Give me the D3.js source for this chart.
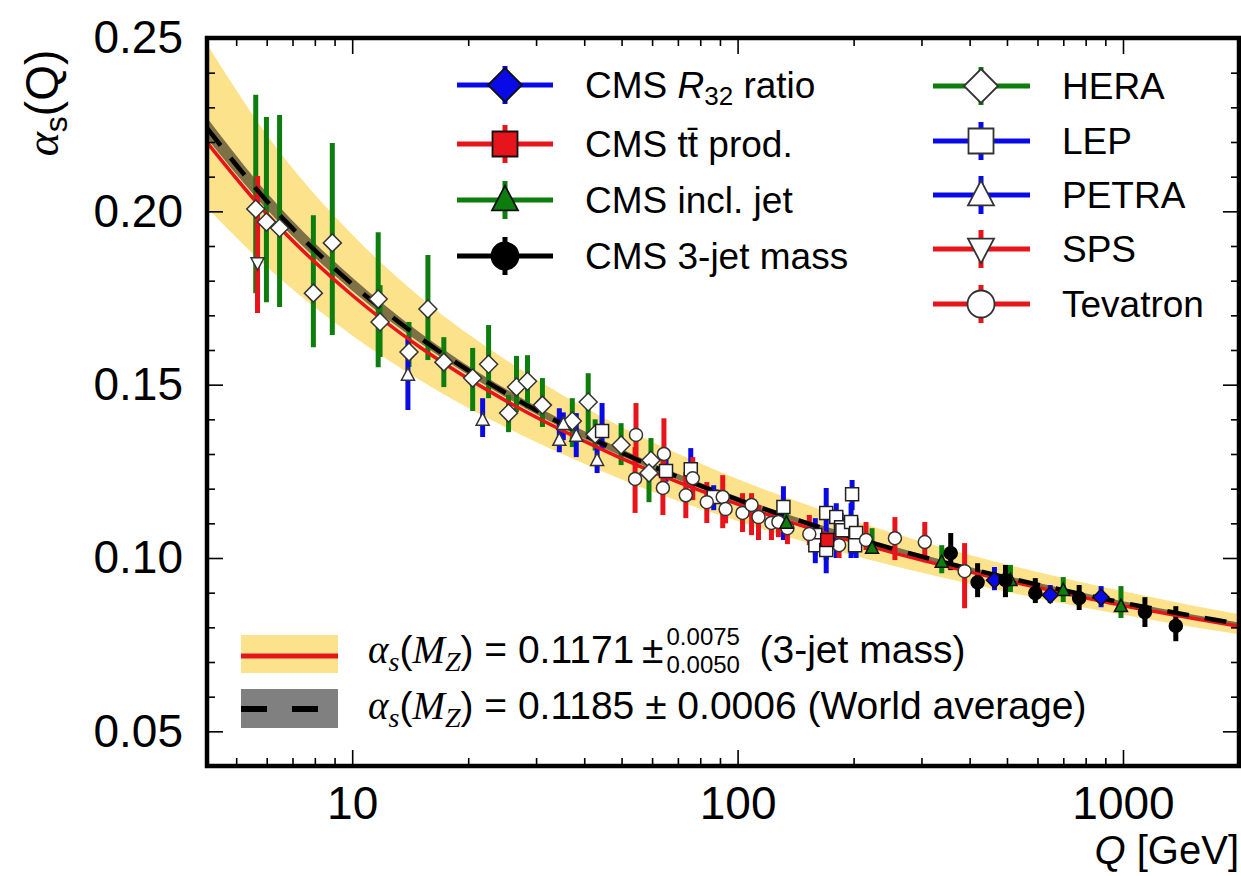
<!DOCTYPE html>
<html><head><meta charset="utf-8">
<script src="https://cdn.jsdelivr.net/npm/d3@7"></script>
<style>body{margin:0;background:#fff}svg{display:block}</style>
</head><body>
<svg id="c" width="1241" height="876"></svg>
<script>
// ---------------- DATA ----------------
// running-coupling curves at these Q values [GeV]
const curveQ   = [4.2, 6, 10, 15, 25, 40, 60, 91.19, 150, 250, 400, 700, 1000, 1500, 2000];
const worldAvg = [0.2240, 0.2030, 0.1790, 0.1635, 0.1476, 0.1355, 0.1265, 0.1185, 0.1102, 0.1028, 0.0969, 0.0907, 0.0871, 0.0834, 0.0810];
const worldHi  = [0.2270, 0.2054, 0.1809, 0.1650, 0.1488, 0.1366, 0.1274, 0.1193, 0.1109, 0.1035, 0.0974, 0.0912, 0.0875, 0.0838, 0.0814];
const worldLo  = [0.2210, 0.2006, 0.1771, 0.1620, 0.1464, 0.1344, 0.1256, 0.1177, 0.1095, 0.1021, 0.0964, 0.0902, 0.0867, 0.0830, 0.0806];
const jet3Fit  = [0.2199, 0.1993, 0.1758, 0.1608, 0.1454, 0.1337, 0.1249, 0.1171, 0.1090, 0.1017, 0.0960, 0.0899, 0.0863, 0.0827, 0.0803];
const jet3Hi   = [0.2482, 0.2221, 0.1933, 0.1753, 0.1572, 0.1435, 0.1335, 0.1246, 0.1155, 0.1074, 0.1009, 0.0942, 0.0904, 0.0864, 0.0838];
const jet3Lo   = [0.2010, 0.1840, 0.1642, 0.1513, 0.1377, 0.1272, 0.1192, 0.1121, 0.1046, 0.0979, 0.0926, 0.0869, 0.0836, 0.0802, 0.0780];

// measurements: [Q, alpha_s, upper end of error bar, lower end of error bar]
const heraData = [
  [5.62,0.2007,0.2336,0.1764],[5.99,0.1969,0.2272,0.1738],[6.48,0.1952,0.2278,0.1724],
  [7.93,0.1764,0.1989,0.1608],[8.88,0.1909,0.2197,0.1643],[11.68,0.1747,0.1940,0.1550],
  [11.81,0.1681,0.1787,0.1580],[14.04,0.1594,0.1681,0.1551],[15.72,0.1718,0.1874,0.1571],
  [17.29,0.1565,0.1637,0.1493],[20.54,0.1519,0.1606,0.1424],[22.59,0.1559,0.1672,0.1461],
  [25.45,0.1418,0.1470,0.1363],[26.69,0.1493,0.1583,0.1421],[28.5,0.1510,0.1585,0.1432],
  [31.16,0.1441,0.1519,0.1378],[37.25,0.1395,0.1461,0.1320],[40.96,0.1450,0.1533,0.1355],
  [42.7,0.1357,0.1400,0.1310],[49.86,0.1326,0.1389,0.1268],[59.6,0.1282,0.1346,0.1230],
  [58.9,0.1245,0.1290,0.1161]
];
const petraData = [
  [13.95,0.1528,0.1637,0.1427],[21.8,0.1398,0.1461,0.1349],[34.47,0.1340,0.1432,0.1305],
  [35.3,0.1386,0.1420,0.1340],[38.14,0.1352,0.1418,0.1291],[43.2,0.1282,0.1320,0.1245]
];
const spsData = [[5.68,0.1851,0.2102,0.1707]];
const lepData = [
  [44.5,0.1366,0.1447,0.1311],[65.2,0.1251,0.1285,0.1220],[75.6,0.1256,0.1317,0.1216],
  [86.7,0.1176,0.1210,0.1138],[131.5,0.1147,0.1207,0.1052],[159.1,0.1066,0.1115,0.0985],
  [159.1,0.1037,0.1060,0.1010],[169.8,0.1130,0.1202,0.0956],[169.8,0.1023,0.1050,0.0995],
  [180.3,0.1118,0.1158,0.1000],[185.6,0.1089,0.1130,0.1050],[187.0,0.1080,0.1115,0.1050],
  [197.0,0.1104,0.1158,0.1000],[198.2,0.1184,0.1225,0.1138],[203.0,0.1072,0.1115,0.1000],
  [201.8,0.1037,0.1060,0.1010]
];
const tevatronData = [
  [54.5,0.1355,0.1447,0.1260],[54.2,0.1228,0.1320,0.1130],[64.4,0.1300,0.1403,0.1210],
  [64.0,0.1202,0.1290,0.1124],[76.5,0.1230,0.1291,0.1167],[73.4,0.1181,0.1248,0.1115],
  [83.2,0.1161,0.1219,0.1101],[91.5,0.1176,0.1239,0.1086],[93.1,0.1141,0.1180,0.1100],
  [103.0,0.1130,0.1187,0.1075],[108.7,0.1153,0.1187,0.1066],[113.3,0.1118,0.1153,0.1052],
  [122.4,0.1101,0.1138,0.1052],[127.6,0.1104,0.1130,0.1060],[134.7,0.1086,0.1110,0.1040],
  [153.5,0.1069,0.1124,0.1037],[183.4,0.1037,0.1072,0.1000],[215.4,0.1052,0.1104,0.1023],
  [256.0,0.1057,0.1118,0.0994],[306.0,0.1046,0.1104,0.0988],[388.2,0.0962,0.1043,0.0855]
];
const cmsInclJet = [
  [133.9,0.1101,0.1130,0.1075],[223.3,0.1029,0.1086,0.1014],[338.6,0.0988,0.1037,0.0956],
  [510.5,0.0936,0.0980,0.0902],[699.8,0.0907,0.0945,0.0873],[988,0.0861,0.0919,0.0827]
];
const cmsR32 = [[464,0.0936,0.0974,0.0907],[647.6,0.0893,0.0922,0.0870],[877.4,0.0887,0.0919,0.0858]];
const cms3Jet = [
  [357.3,0.1014,0.1072,0.0965],[419.5,0.0930,0.0985,0.0887],[495.5,0.0936,0.0980,0.0887],
  [592.3,0.0899,0.0942,0.0870],[769.6,0.0884,0.0922,0.0850],[1140,0.0844,0.0887,0.0801],
  [1371,0.0804,0.0861,0.0760]
];
const cmsTTbar = [[170.8,0.1052,0.1075,0.1029]];

const xMajorTicks = [10, 100, 1000];
const xMinorTicks = [5,6,7,8,9,20,30,40,50,60,70,80,90,200,300,400,500,600,700,800,900];
const yMajorTicks = [0.05, 0.10, 0.15, 0.20, 0.25];
const yMinorTicks = [0.06,0.07,0.08,0.09,0.11,0.12,0.13,0.14,0.16,0.17,0.18,0.19,0.21,0.22,0.23,0.24];

// ---------------- STYLE / LAYOUT ----------------
const SANS = '"Liberation Sans", Arial, Helvetica, sans-serif';
const SERIF = '"Liberation Serif", "DejaVu Serif", serif';
const BLUE = '#0a0ae6', RED = '#e8141b', GREEN = '#0d7d0d', BLACK = '#000';
const L = 207, R = 1239, T = 38, B = 766;

const x = d3.scaleLog().domain([4.2, 2000]).range([L, R]);
const y = d3.scaleLinear().domain([0.04, 0.25]).range([B, T]);

const svg = d3.select('#c');
svg.append('rect').attr('width',1241).attr('height',876).attr('fill','#fff');
svg.append('defs').append('clipPath').attr('id','clip')
  .append('rect').attr('x',L).attr('y',T).attr('width',R-L).attr('height',B-T);
const plot = svg.append('g').attr('clip-path','url(#clip)');

function symbol(type, s) {
  switch (type) {
    case 'diamond': return `M0,${-s}L${s},0L0,${s}L${-s},0Z`;
    case 'square': return `M${-s},${-s}H${s}V${s}H${-s}Z`;
    case 'triUp': return `M0,${-s*1.1}L${s},${s*0.8}L${-s},${s*0.8}Z`;
    case 'triDown': return `M0,${s*1.1}L${s},${-s*0.8}L${-s},${-s*0.8}Z`;
    case 'circle': return d3.arc()({innerRadius:0, outerRadius:s, startAngle:0, endAngle:2*Math.PI});
  }
}

const groups = [
  {data: heraData,     color: GREEN, marker:'diamond', size:9,   fill:'#fff', stroke:'#333'},
  {data: petraData,    color: BLUE,  marker:'triUp',   size:6.5, fill:'#fff', stroke:'#333'},
  {data: spsData,      color: RED,   marker:'triDown', size:6.5, fill:'#fff', stroke:'#333'},
  {data: lepData,      color: BLUE,  marker:'square',  size:6.5, fill:'#fff', stroke:'#222'},
  {data: tevatronData, color: RED,   marker:'circle',  size:6.5, fill:'#fff', stroke:'#333'},
  {data: cmsInclJet,   color: GREEN, marker:'triUp',   size:6.5, fill:GREEN,  stroke:'#111'},
  {data: cmsTTbar,     color: RED,   marker:'square',  size:6.5, fill:RED,    stroke:'#111'},
  {data: cmsR32,       color: BLUE,  marker:'diamond', size:8,   fill:BLUE,   stroke:'#111'},
  {data: cms3Jet,      color: BLACK, marker:'circle',  size:6.5, fill:BLACK,  stroke:'#000'}
];

// bands
const area = d3.area().x(d=>x(d[0])).y0(d=>y(d[1])).y1(d=>y(d[2])).curve(d3.curveMonotoneX);
const line = d3.line().x(d=>x(d[0])).y(d=>y(d[1])).curve(d3.curveMonotoneX);
plot.append('path').attr('d', area(curveQ.map((q,i)=>[q, jet3Lo[i], jet3Hi[i]]))).attr('fill','#fde28c');
plot.append('path').attr('d', area(curveQ.map((q,i)=>[q, worldLo[i], worldHi[i]]))).attr('fill','#000').attr('fill-opacity',0.5);

// error bars
groups.forEach(g => {
  plot.append('g').selectAll('line').data(g.data).join('line')
    .attr('x1', d=>x(d[0])).attr('x2', d=>x(d[0]))
    .attr('y1', d=>y(d[2])).attr('y2', d=>y(d[3]))
    .attr('stroke', g.color).attr('stroke-width', 5);
});

// curves
plot.append('path').attr('d', line(curveQ.map((q,i)=>[q, jet3Fit[i]])))
  .attr('fill','none').attr('stroke',RED).attr('stroke-width',3.5);
plot.append('path').attr('d', line(curveQ.map((q,i)=>[q, worldAvg[i]])))
  .attr('fill','none').attr('stroke','#000').attr('stroke-width',4.5).attr('stroke-dasharray','22,16');

// markers
groups.forEach(g => {
  plot.append('g').selectAll('path').data(g.data).join('path')
    .attr('transform', d=>`translate(${x(d[0])},${y(d[1])})`)
    .attr('d', symbol(g.marker, g.size))
    .attr('fill', g.fill).attr('stroke', g.stroke).attr('stroke-width', 1.5);
});

// axes (inward ticks)
function styleAxis(sel) {
  sel.select('.domain').remove();
  sel.selectAll('.tick line').attr('stroke','#000').attr('stroke-width',1.6);
  sel.selectAll('.tick text').style('font-family',SANS).style('font-size','46px').attr('fill','#000');
}
svg.append('g').attr('transform',`translate(0,${B})`)
  .call(d3.axisBottom(x).tickValues(xMajorTicks).tickSize(-16).tickPadding(20).tickFormat(d=>String(d))).call(styleAxis);
svg.append('g').attr('transform',`translate(0,${B})`)
  .call(d3.axisBottom(x).tickValues(xMinorTicks).tickSize(-8).tickFormat('')).call(styleAxis);
svg.append('g').attr('transform',`translate(0,${T})`)
  .call(d3.axisTop(x).tickValues(xMajorTicks).tickSize(-16).tickFormat('')).call(styleAxis);
svg.append('g').attr('transform',`translate(0,${T})`)
  .call(d3.axisTop(x).tickValues(xMinorTicks).tickSize(-8).tickFormat('')).call(styleAxis);
svg.append('g').attr('transform',`translate(${L},0)`)
  .call(d3.axisLeft(y).tickValues(yMajorTicks).tickSize(-16).tickPadding(24).tickFormat(d3.format('.2f'))).call(styleAxis);
svg.append('g').attr('transform',`translate(${L},0)`)
  .call(d3.axisLeft(y).tickValues(yMinorTicks).tickSize(-8).tickFormat('')).call(styleAxis);
svg.append('g').attr('transform',`translate(${R},0)`)
  .call(d3.axisRight(y).tickValues(yMajorTicks).tickSize(-16).tickFormat('')).call(styleAxis);
svg.append('g').attr('transform',`translate(${R},0)`)
  .call(d3.axisRight(y).tickValues(yMinorTicks).tickSize(-8).tickFormat('')).call(styleAxis);

// frame
svg.append('rect').attr('x',L).attr('y',T).attr('width',R-L).attr('height',B-T)
  .attr('fill','none').attr('stroke','#000').attr('stroke-width',4.5);

// axis titles
const yl = svg.append('text').attr('transform','translate(58,103) rotate(-90)')
  .attr('text-anchor','middle').style('font-family',SANS).style('font-size','46px');
yl.append('tspan').text('α').style('font-family',SERIF).style('font-style','italic');
yl.append('tspan').text('s').style('font-size','32px').attr('dy',9);
yl.append('tspan').text('(Q)').attr('dy',-9);

const xl = svg.append('text').attr('x',1239).attr('y',864).attr('text-anchor','end')
  .style('font-family',SANS).style('font-size','40px');
xl.append('tspan').text('Q').style('font-style','italic');
xl.append('tspan').text(' [GeV]');

// top legend
const legendItems = [
  {col:0,row:0,color:BLUE, marker:'diamond',size:17,fill:BLUE,stroke:'#111', label:[['CMS ',''],['R','i'],['32','sub'],[' ratio','']]},
  {col:0,row:1,color:RED,  marker:'square', size:12.5,fill:RED,stroke:'#111', label:[['CMS t\u0074\u0304 prod.','']]},
  {col:0,row:2,color:GREEN,marker:'triUp',  size:13,fill:GREEN,stroke:'#111', label:[['CMS incl. jet','']]},
  {col:0,row:3,color:BLACK,marker:'circle', size:13.5,fill:BLACK,stroke:'#000', label:[['CMS 3-jet mass','']]},
  {col:1,row:0,color:GREEN,marker:'diamond',size:17,fill:'#fff',stroke:'#333', label:[['HERA','']]},
  {col:1,row:1,color:BLUE, marker:'square', size:12.5,fill:'#fff',stroke:'#333', label:[['LEP','']]},
  {col:1,row:2,color:BLUE, marker:'triUp',  size:13,fill:'#fff',stroke:'#333', label:[['PETRA','']]},
  {col:1,row:3,color:RED,  marker:'triDown',size:13,fill:'#fff',stroke:'#333', label:[['SPS','']]},
  {col:1,row:4,color:RED,  marker:'circle', size:13.5,fill:'#fff',stroke:'#333', label:[['Tevatron','']]}
];
const colX = [{x0:457,x1:553,xm:505,tx:585,rows:[85,144,200,256]},
              {x0:933,x1:1030,xm:981,tx:1062,rows:[86,141,195,249,304]}];
legendItems.forEach(it => {
  const c = colX[it.col], cy = c.rows[it.row];
  const g = svg.append('g');
  g.append('line').attr('x1',c.x0).attr('x2',c.x1).attr('y1',cy).attr('y2',cy).attr('stroke',it.color).attr('stroke-width',5);
  g.append('line').attr('x1',c.xm).attr('x2',c.xm).attr('y1',cy-19).attr('y2',cy+19).attr('stroke',it.color).attr('stroke-width',5);
  g.append('path').attr('transform',`translate(${c.xm},${cy})`).attr('d',symbol(it.marker,it.size))
    .attr('fill',it.fill).attr('stroke',it.stroke).attr('stroke-width',1.8);
  const t = g.append('text').attr('x',c.tx).attr('y',cy+13).style('font-family',SANS).style('font-size','37px');
  let shifted = false;
  it.label.forEach(([s,k]) => {
    const ts = t.append('tspan').text(s);
    if (k==='i') ts.style('font-style','italic');
    if (k==='sub') { ts.style('font-size','26px').attr('dy',7); shifted = true; }
    else if (shifted) { ts.attr('dy',-7); shifted = false; }
  });
});

// bottom legend
svg.append('rect').attr('x',241).attr('y',635).attr('width',97).attr('height',38).attr('fill','#fde28c');
svg.append('line').attr('x1',241).attr('x2',338).attr('y1',656).attr('y2',656).attr('stroke',RED).attr('stroke-width',5);
svg.append('rect').attr('x',241).attr('y',689).attr('width',97).attr('height',39).attr('fill','#808080');
svg.append('line').attr('x1',241).attr('x2',318).attr('y1',709).attr('y2',709).attr('stroke','#000').attr('stroke-width',6).attr('stroke-dasharray','26,25');

function alphaMZ(t) {
  t.append('tspan').text('α').style('font-family',SERIF).style('font-style','italic');
  t.append('tspan').text('s').style('font-family',SERIF).style('font-style','italic').style('font-size','28px').attr('dy',8);
  t.append('tspan').text('(').attr('dy',-8);
  t.append('tspan').text('M').style('font-family',SERIF).style('font-style','italic');
  t.append('tspan').text('Z').style('font-family',SERIF).style('font-style','italic').style('font-size','28px').attr('dy',8);
}
const b1 = svg.append('text').attr('x',368).attr('y',663).style('font-family',SANS).style('font-size','39px');
alphaMZ(b1);
b1.append('tspan').text(') = 0.1171\u2009±').attr('dy',-8);
const b1end = 368 + b1.node().getComputedTextLength();
svg.append('text').attr('x',b1end+3).attr('y',645).style('font-family',SANS).style('font-size','24px').text('0.0075');
svg.append('text').attr('x',b1end+3).attr('y',673).style('font-family',SANS).style('font-size','24px').text('0.0050');
svg.append('text').attr('x',b1end+96).attr('y',663).style('font-family',SANS).style('font-size','39px').text('(3-jet mass)');

const b2 = svg.append('text').attr('x',368).attr('y',719).style('font-family',SANS).style('font-size','39px');
alphaMZ(b2);
b2.append('tspan').text(') = 0.1185 ± 0.0006 (World average)').attr('dy',-8);
</script>
</body></html>
